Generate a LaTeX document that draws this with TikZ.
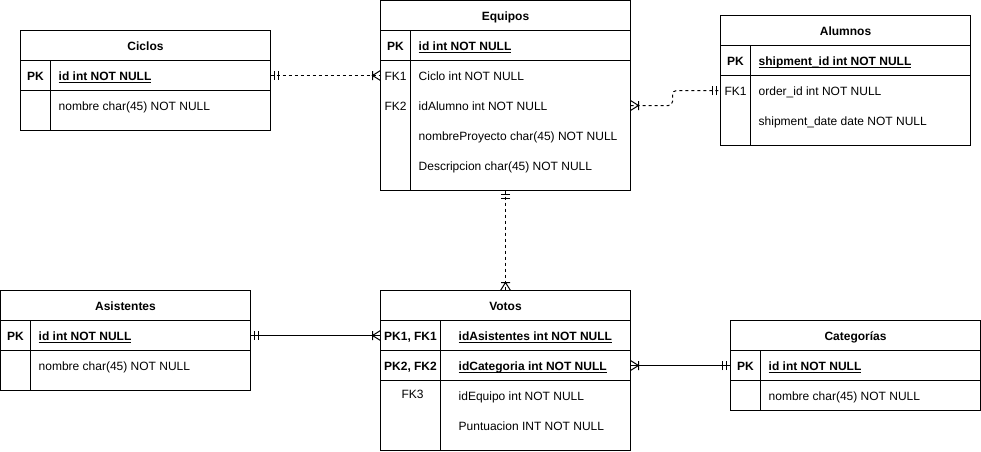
\documentclass[tikz,border=0pt]{standalone}
\usepackage{fontspec}
\setmainfont{Liberation Sans}
\newcommand\myul[1]{\setbox0\hbox{#1}\rlap{\rule[-2.2pt]{\wd0}{0.9pt}}\box0}
\tikzset{
  lw/.style={line width=1pt},
  cell/.style={draw, lw, minimum width=250pt, minimum height=#1, inner sep=0pt, outer sep=0pt, anchor=north west, text height=10.4pt, text depth=0pt, font=\bfseries},
  rowc/.style={minimum width=250pt, minimum height=30pt, inner sep=0pt, outer sep=0pt, anchor=north west},
  keyt/.style={anchor=center, inner sep=0pt, text height=10.4pt, text depth=0pt},
  fldt/.style={anchor=west, inner sep=0pt, text height=10.4pt, text depth=0pt},
  rel/.style={lw},
  dashrel/.style={lw, dash pattern=on 3pt off 3pt},
  mandone/.pic={\draw[lw, solid] (4,-4.5)--(4,4.5) (8,-4.5)--(8,4.5);},
  onemany/.pic={\draw[lw, solid] (8,-4.5)--(8,4.5) (0,-5)--(8,0)--(0,5);},
}
\begin{document}
\fontsize{12pt}{14pt}\selectfont
\begin{tikzpicture}[x=1pt, y=-1pt]
\useasboundingbox (-0.5,-0.5) rectangle (980.5,450.5);

% Ciclos
\node[cell=30pt] (ciclos) at (20,30) {Ciclos};
\node[cell=30pt] (ci-pk) at (20,60) {};
\node[cell=40pt] (ci-r) at (20,90) {};
\draw[lw] (50,60) -- (50,130);
\node[keyt, font=\bfseries] (ci-k1) at (35,75) {PK};
\node[fldt, font=\bfseries] (ci-f1) at (58,75) {\myul{id int NOT NULL}};
\node[fldt] (ci-f2) at (58,105) {nombre char(45) NOT NULL};

% Equipos
\node[cell=30pt] (equipos) at (380,0) {Equipos};
\node[cell=30pt] (eq-pk) at (380,30) {};
\node[cell=130pt] (eq-r) at (380,60) {};
\draw[lw] (410,30) -- (410,190);
\node[rowc] (eq-fk1) at (380,60) {};
\node[rowc] (eq-fk2) at (380,90) {};
\node[keyt, font=\bfseries] (eq-k1) at (395,45) {PK};
\node[keyt] (eq-k2) at (395,75) {FK1};
\node[keyt] (eq-k3) at (395,105) {FK2};
\node[fldt, font=\bfseries] (eq-f1) at (418,45) {\myul{id int NOT NULL}};
\node[fldt] (eq-f2) at (418,75) {Ciclo int NOT NULL};
\node[fldt] (eq-f3) at (418,105) {idAlumno int NOT NULL};
\node[fldt] (eq-f4) at (418,135) {nombreProyecto char(45) NOT NULL};
\node[fldt] (eq-f5) at (418,165) {Descripcion char(45) NOT NULL};

% Alumnos
\node[cell=30pt] (alumnos) at (720,15) {Alumnos};
\node[cell=30pt] (al-pk) at (720,45) {};
\node[cell=70pt] (al-r) at (720,75) {};
\draw[lw] (750,45) -- (750,145);
\node[rowc] (al-fk1) at (720,75) {};
\node[keyt, font=\bfseries] (al-k1) at (735,60) {PK};
\node[keyt] (al-k2) at (735,90) {FK1};
\node[fldt, font=\bfseries] (al-f1) at (758,60) {\myul{shipment\_id int NOT NULL}};
\node[fldt] (al-f2) at (758,90) {order\_id int NOT NULL};
\node[fldt] (al-f3) at (758,120) {shipment\_date date NOT NULL};

% Asistentes
\node[cell=30pt] (asistentes) at (0,290) {Asistentes};
\node[cell=30pt] (as-pk) at (0,320) {};
\node[cell=40pt] (as-r) at (0,350) {};
\draw[lw] (30,320) -- (30,390);
\node[keyt, font=\bfseries] (as-k1) at (15,335) {PK};
\node[fldt, font=\bfseries] (as-f1) at (38,335) {\myul{id int NOT NULL}};
\node[fldt] (as-f2) at (38,365) {nombre char(45) NOT NULL};

% Votos
\node[cell=30pt] (votos) at (380,290) {Votos};
\node[cell=30pt] (vo-r1) at (380,320) {};
\node[cell=30pt] (vo-r2) at (380,350) {};
\node[cell=70pt] (vo-r) at (380,380) {};
\draw[lw] (440,320) -- (440,450);
\node[keyt, font=\bfseries] (vo-k1) at (410,335) {PK1, FK1};
\node[keyt, font=\bfseries] (vo-k2) at (410,365) {PK2, FK2};
\node[keyt] (vo-k3) at (412,393) {FK3};
\node[fldt, font=\bfseries] (vo-f1) at (458,335) {\myul{idAsistentes int NOT NULL}};
\node[fldt, font=\bfseries] (vo-f2) at (458,365) {\myul{idCategoria int NOT NULL}};
\node[fldt] (vo-f3) at (458,395) {idEquipo int NOT NULL};
\node[fldt] (vo-f4) at (458,425) {Puntuacion INT NOT NULL};

% Categorias
\node[cell=30pt] (categorias) at (730,320) {Categorías};
\node[cell=30pt] (ca-pk) at (730,350) {};
\node[cell=30pt] (ca-r) at (730,380) {};
\draw[lw] (760,350) -- (760,410);
\node[keyt, font=\bfseries] (ca-k1) at (745,365) {PK};
\node[fldt, font=\bfseries] (ca-f1) at (768,365) {\myul{id int NOT NULL}};
\node[fldt] (ca-f2) at (768,395) {nombre char(45) NOT NULL};

% Relations
\draw[dashrel] (ci-pk.east) -- (eq-fk1.west);
\pic at (ci-pk.east) {mandone};
\pic[rotate=180] at (eq-fk1.west) {onemany};

\draw[dashrel, rounded corners=4pt] (eq-fk2.east) -- ++(42,0) |- (al-fk1.west);
\pic at (eq-fk2.east) {onemany};
\pic[rotate=180] at (al-fk1.west) {mandone};

\draw[dashrel] (eq-r.south) -- (votos.north);
\pic[rotate=-90] at (eq-r.south) {mandone};
\pic[rotate=90] at (votos.north) {onemany};

\draw[rel] (as-pk.east) -- (vo-r1.west);
\pic at (as-pk.east) {mandone};
\pic[rotate=180] at (vo-r1.west) {onemany};

\draw[rel] (vo-r2.east) -- (ca-pk.west);
\pic at (vo-r2.east) {onemany};
\pic[rotate=180] at (ca-pk.west) {mandone};
\end{tikzpicture}
\end{document}
